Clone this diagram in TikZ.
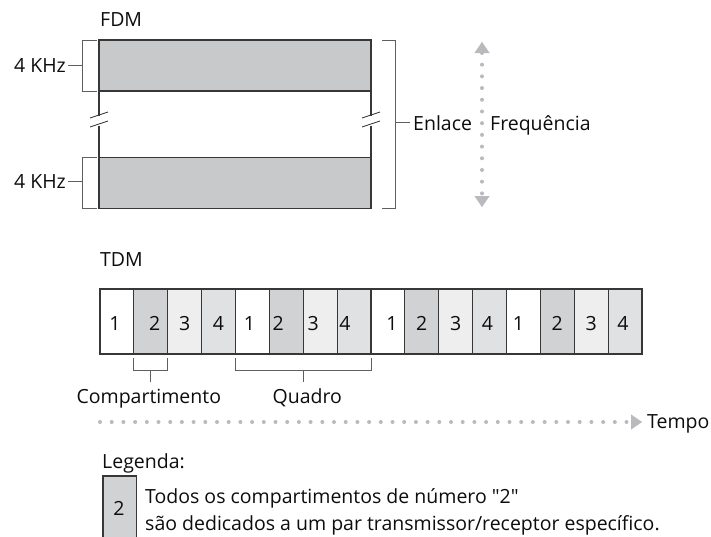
\documentclass[tikz,border=0pt]{standalone}
\usepackage{fontspec}
\setmainfont{Open Sans}
\font\quotefont="Open Sans" at 19.5pt
\usetikzlibrary{arrows.meta}
\usetikzlibrary{positioning}
\definecolor{bandgray}{RGB}{200,201,203}
\definecolor{slotb}{RGB}{209,210,212}
\definecolor{slotc}{RGB}{238,238,239}
\definecolor{slotd}{RGB}{224,225,226}
\definecolor{dotgray}{RGB}{185,186,189}
\definecolor{inkgray}{RGB}{55,55,55}
\definecolor{brkgray}{RGB}{95,95,95}
\newcommand{\dq}{{\quotefont\symbol{34}}}

\begin{document}
\begin{tikzpicture}[x=1pt,y=-1pt,
  every node/.style={font=\fontsize{19.5}{22}\selectfont,text=black!95,inner sep=0pt},
  band/.style={draw=inkgray,line width=1.1pt,fill=bandgray,minimum width=272pt,minimum height=51pt,outer sep=0pt},
  slot/.style={draw=inkgray,line width=1.1pt,minimum width=33.875pt,minimum height=65pt,outer sep=0pt},
  brk/.style={draw=brkgray,line width=0.8pt},
  dots/.style={draw=dotgray,line width=4pt,line cap=round,dash pattern=on 0pt off 11.7pt},
  head/.tip={Triangle[length=11pt,width=15pt,line width=0.1pt,fill=dotgray]}]
  \useasboundingbox (0,0) rectangle (711,536);

  % FDM
  \node[anchor=base west] (fdm) at (100,26) {FDM};
  \node[band] (hi) at (235,65.5) {};
  \node[band] (lo) at (235,183) {};
  \foreach \s in {west,east}{
    \draw[inkgray,line width=1.1pt] (hi.south \s) -- ++(0,25);
    \draw[inkgray,line width=1.1pt] (lo.north \s) -- ++(0,-32);
    \draw[inkgray,line width=0.9pt] ([shift={(-9,27)}]hi.south \s) -- ++(18,-6);
    \draw[inkgray,line width=0.9pt] ([shift={(-9,36)}]hi.south \s) -- ++(18,-6);
  }

  \node[anchor=base east] (kh1) at (66,72) {4 KHz};
  \node[anchor=base east] (kh2) at (66,188) {4 KHz};
  \draw[brk] ([xshift=-2pt]hi.north west) -- ++(-15,0) |- ([xshift=-2pt]hi.south west);
  \draw[brk] ([xshift=-2pt]lo.north west) -- ++(-15,0) |- ([xshift=-2pt]lo.south west);
  \draw[brk] ([xshift=2pt]kh1.east) -- ++(14,0);
  \draw[brk] ([xshift=2pt]kh2.east) -- ++(14,0);

  \draw[brk] ([xshift=11pt]hi.north east) -- ++(13,0) |- ([xshift=11pt]lo.south east);
  \node[anchor=base west] (enl) at (413,130) {Enlace};
  \draw[brk] ([xshift=-3pt]enl.west) -- ++(-15,0);

  \coordinate (fup) at (482,42);
  \coordinate (fdn) at (482,207);
  \draw[dots,head-head] (fup) -- (fdn);
  \node[anchor=base west] (freq) at (490,130) {Frequência};

  % TDM
  \node[anchor=base west] (tdm) at (100,266) {TDM};
  \foreach \i/\n/\c/\dx in {1/1/white/-2,2/2/slotb/4,3/3/slotc/0,4/4/slotd/0,
      5/1/white/-3,6/2/slotb/-8,7/3/slotc/-7,8/4/slotd/-9,
      9/1/white/4,10/2/slotb/0,11/3/slotc/0,12/4/slotd/-2,
      13/1/white/-5,14/2/slotb/0,15/3/slotc/0,16/4/slotd/-2}{
    \node[slot,fill=\c] (s\i) at ({100+33.875*(\i-0.5)},321.5) {};
    \node[anchor=base] (n\i) at ({100+33.875*(\i-0.5)+\dx},330) {\n};
  }

  \draw[brk] ([yshift=-4pt]s2.south west) -- ++(0,12) -| ([yshift=-4pt]s2.south east);
  \draw[brk] ([yshift=-16pt]s2.south) -- ++(0,12);
  \node[anchor=base] (comp) at ([yshift=-49pt,xshift=-2pt]s2.south) {Compartimento};

  \draw[brk] ([yshift=-4pt]s5.south west) -- ++(0,12) -| ([yshift=-4pt]s8.south east);
  \draw[brk] ([yshift=-16pt]s6.south east) -- ++(0,12);
  \node[anchor=base] (quad) at ([yshift=-49pt,xshift=4pt]s6.south east) {Quadro};

  \coordinate (t0) at (100,422);
  \node[anchor=base west] (tempo) at (647,428) {Tempo};
  \draw[dots,-head] (t0) -- ([xshift=-5pt]tempo.west |- t0);

  % legenda
  \node[anchor=base west] (leg) at (102,468) {Legenda:};
  \node[slot,fill=slotb,minimum height=64pt,anchor=north west] (key) at (103,476) {};
  \node[anchor=base] (keynum) at (119,515) {2};
  \node[anchor=base west] (leg1) at (145,503) {Todos os compartimentos de número \dq2\dq};
  \node[anchor=base west] (leg2) at (145,530) {são dedicados a um par transmissor/receptor específico.};
\end{tikzpicture}
\end{document}
